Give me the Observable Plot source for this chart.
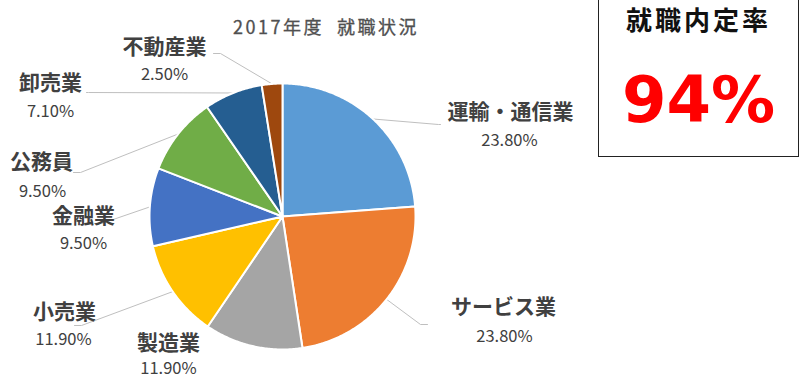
<!DOCTYPE html>
<html lang="ja">
<head>
<meta charset="utf-8">
<script src="https://cdn.jsdelivr.net/npm/d3@7"></script>
<script src="https://cdn.jsdelivr.net/npm/@observablehq/plot@0.6"></script>
<style>
  html, body { margin: 0; padding: 0; background: #fff; }
  #wrap { position: relative; width: 800px; height: 385px; overflow: hidden; font-family: "Noto Sans CJK JP", "Noto Sans", sans-serif; }
  #title { position: absolute; left: 216px; top: 13px; width: 220px; text-align: center; font-size: 18px; color: #505050; letter-spacing: 2.5px; white-space: pre; -webkit-text-stroke: 0.3px #505050; }
  #box { position: absolute; left: 598px; top: -1px; width: 199px; height: 156px; border: 1.5px solid #222; box-sizing: content-box; }
  #boxTitle { position: absolute; left: 0; right: 0; top: 0px; text-align: center; font-size: 26px; font-weight: bold; color: #111; letter-spacing: 3px; }
  #boxValue { position: absolute; left: 0; right: 0; top: 63px; text-align: center; font-family: "DejaVu Sans", sans-serif; font-size: 64px; font-weight: bold; color: #ff0000; }
  g[aria-label="category-name"] text { letter-spacing: 2.5px; }
  g[aria-label="category-share"] text { letter-spacing: 1px; }
</style>
</head>
<body>
<div id="wrap">
  <div id="chart"></div>
  <div id="title"></div>
  <div id="box"><div id="boxTitle"></div><div id="boxValue"></div></div>
</div>
<script>
// ---- data ----
const chartTitle = "2017年度  就職状況";
const categories = ["運輸・通信業", "サービス業", "製造業", "小売業", "金融業", "公務員", "卸売業", "不動産業"];
const shares = [23.8, 23.8, 11.9, 11.9, 9.5, 9.5, 7.1, 2.5];
const kpiLabel = "就職内定率";
const kpiValue = "94%";

// ---- style / layout ----
const colors = ["#5B9BD5", "#ED7D31", "#A5A5A5", "#FFC000", "#4472C4", "#70AD47", "#255E91", "#9E480E"];
const center = {x: 282, y: 216};
const radius = 133;
// label placement (layout units = pixels): name centre, percent centre, leader elbow & end
const labelLayout = [
  {nx: 510, ny: 112, px: 509, py: 140, leader: [[438, 124], [440, 124]]},
  {nx: 503, ny: 307, px: 504, py: 336, leader: [[420, 324], [427, 324]]},
  {nx: 168, ny: 343, px: 168, py: 368, leader: null},
  {nx: 64,  ny: 312, px: 63,  py: 339, leader: [[81, 325], [74, 325]]},
  {nx: 83,  ny: 216, px: 83,  py: 243, leader: [[101, 223], [94, 223]]},
  {nx: 41,  ny: 162, px: 42,  py: 191, leader: [[80, 172], [73, 172]]},
  {nx: 50,  ny: 83,  px: 50,  py: 111, leader: [[88, 92], [86, 92]]},
  {nx: 164, ny: 47,  px: 164, py: 74,  leader: [[220, 53], [213, 53]]}
];

document.getElementById("title").textContent = chartTitle;
document.getElementById("boxTitle").textContent = kpiLabel;
document.getElementById("boxValue").textContent = kpiValue;

const arcs = d3.pie().sort(null).value(d => d)(shares);
const polar = (a, r) => [center.x + r * Math.sin(a), center.y - r * Math.cos(a)];

// slice outlines
const slicePts = [];
arcs.forEach((a, i) => {
  const name = categories[i];
  slicePts.push({name, x: center.x, y: center.y});
  const n = Math.max(2, Math.ceil((a.endAngle - a.startAngle) / 0.01));
  for (let k = 0; k <= n; k++) {
    const t = a.startAngle + (a.endAngle - a.startAngle) * k / n;
    const [x, y] = polar(t, radius);
    slicePts.push({name, x, y});
  }
  slicePts.push({name, x: center.x, y: center.y});
});

// leader lines
const leaderPts = [];
arcs.forEach((a, i) => {
  const L = labelLayout[i].leader;
  if (!L) return;
  const [x0, y0] = polar((a.startAngle + a.endAngle) / 2, radius);
  leaderPts.push({name: categories[i], x: x0, y: y0});
  L.forEach(([x, y]) => leaderPts.push({name: categories[i], x, y}));
});

const labels = categories.map((c, i) => ({
  name: c,
  share: d3.format(".2f")(shares[i]) + "%",
  ...labelLayout[i]
}));

const font = '"Noto Sans CJK JP", "Noto Sans", sans-serif';
const plot = Plot.plot({
  width: 800,
  height: 385,
  margin: 0,
  x: {domain: [0, 800], range: [0, 800], axis: null},
  y: {domain: [0, 385], range: [0, 385], axis: null},
  color: {domain: categories, range: colors},
  style: {background: "transparent", fontFamily: font},
  marks: [
    Plot.line(leaderPts, {x: "x", y: "y", z: "name", stroke: "#BFBFBF", strokeWidth: 1, curve: "linear"}),
    Plot.line(slicePts, {x: "x", y: "y", z: "name", fill: "name", stroke: "white", strokeWidth: 2, strokeLinejoin: "round", curve: "linear"}),
    Plot.text(labels, {x: "nx", y: "ny", text: "name", fontSize: 21, fontWeight: "bold", fill: "#404040", ariaLabel: "category-name"}),
    Plot.text(labels, {x: "px", y: "py", text: "share", fontSize: 16.5, fill: "#404040", ariaLabel: "category-share"})
  ]
});
document.getElementById("chart").appendChild(plot);
</script>
</body>
</html>
